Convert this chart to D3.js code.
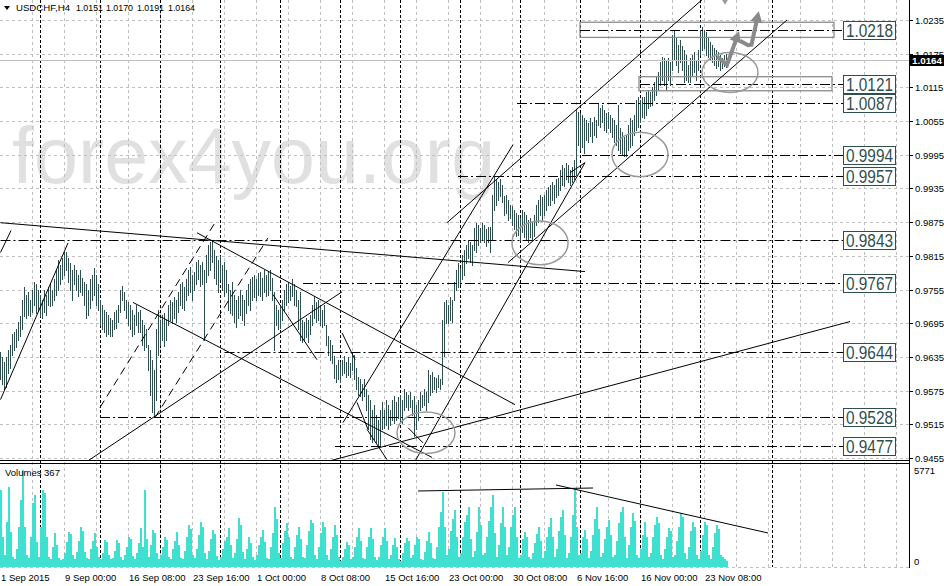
<!DOCTYPE html>
<html><head><meta charset="utf-8">
<script src="https://cdn.jsdelivr.net/npm/d3@7"></script>
<style>
body{margin:0;background:#fff;}
svg{display:block;font-family:"Liberation Sans",Arial,sans-serif;}
</style></head>
<body><svg id="chart" width="944" height="586"></svg>
<script>
// ---- data ----
const symbol = "USDCHF,H4";
const headerQuote = ["1.0151","1.0170","1.0191","1.0164"];
const lastPrice = 1.0164;
const highs = [
.9643,.9634,.9626,.9634,.9648,.9657,.9675,.9679,.9684,.9697,.9707,.9737,
.9759,.9746,.9750,.9737,.9755,.9769,.9764,.9755,.9746,
.9737,.9755,.9746,.9759,.9764,.9755,.9773,.9790,.9808,.9799,
.9812,.9822,.9822,.9812,.9803,.9790,.9799,.9790,.9781,.9790,
.9776,.9769,.9764,.9755,.9773,.9781,.9794,.9781,.9764,.9737,
.9728,.9719,.9715,.9710,.9705,.9701,.9715,.9719,.9728,.9755,
.9761,.9751,.9737,.9732,.9728,.9719,.9710,.9728,.9715,.9719,
.9701,.9692,.9684,.9657,.9648,.9630,.9612,.9684,.9719,.9701,
.9710,.9714,.9701,.9728,.9737,.9732,.9741,.9737,.9751,.9764,
.9768,.9759,.9773,.9790,.9795,.9781,.9786,.9804,.9808,.9799,
.9804,.9790,.9817,.9835,.9840,.9844,.9826,.9814,.9808,.9814,
.9799,.9804,.9790,.9764,.9755,.9768,.9746,.9737,.9743,.9755,
.9746,.9737,.9755,.9764,.9773,.9778,.9781,.9773,.9785,.9786,
.9776,.9790,.9781,.9786,.9790,.9776,.9750,.9728,.9719,.9725,
.9737,.9755,.9764,.9768,.9761,.9773,.9764,.9755,.9737,.9750,
.9701,.9697,.9705,.9701,.9710,.9728,.9743,.9732,.9737,.9728,
.9719,.9728,.9692,.9672,.9666,.9657,.9636,.9621,.9630,.9626,
.9630,.9636,.9626,.9634,.9625,.9643,.9639,.9616,.9600,.9595,
.9586,.9595,.9577,.9568,.9559,.9541,.9550,.9532,.9523,.9541,
.9554,.9541,.9559,.9550,.9541,.9559,.9565,.9555,.9563,.9568,
.9559,.9577,.9573,.9568,.9572,.9559,.9565,.9550,.9559,.9572,
.9568,.9577,.9572,.9612,.9603,.9608,.9600,.9598,.9603,.9595,
.9701,.9732,.9737,.9728,.9741,.9737,.9769,.9790,.9803,.9794,
.9817,.9826,.9835,.9844,.9839,.9835,.9865,.9874,.9870,.9865,
.9874,.9870,.9862,.9867,.9867,.9924,.9956,.9951,.9947,.9951,
.9942,.9921,.9924,.9915,.9906,.9903,.9897,.9892,.9888,.9883,
.9897,.9893,.9888,.9879,.9883,.9875,.9888,.9906,.9915,.9924,
.9919,.9924,.9933,.9937,.9942,.9946,.9942,.9951,.9954,.9968,
.9977,.9972,.9981,.9977,.9968,.9974,.9986,1.0075,1.0071,1.0070,
1.0066,1.0061,1.0057,1.0052,1.0061,1.0053,1.0063,1.0057,1.0088,1.0079,
1.0084,1.0075,1.0070,1.0071,1.0066,1.0061,1.0057,1.0048,1.0084,1.0043,
1.0036,1.0026,1.0031,1.0048,1.0061,1.0057,1.0066,1.0093,1.0097,1.0093,
1.0098,1.0097,1.0106,1.0111,1.0107,1.0115,1.0124,1.0134,1.0142,1.0160,
1.0170,1.0168,1.0164,1.0168,1.0160,1.0209,1.0218,1.0204,1.0191,1.0200,
1.0188,1.0182,1.0173,1.0155,1.0168,1.0173,1.0178,1.0164,1.0182,1.0218,
1.0223,1.0218,1.0214,1.0204,1.0196,1.0191,1.0186,1.0182,1.0178,1.0173,1.0168,1.0173,1.0175
];
const lows = [
.9595,.9586,.9577,.9581,.9607,.9616,.9639,.9648,.9652,.9666,.9672,.9684,
.9707,.9705,.9710,.9707,.9715,.9728,.9714,.9719,.9707,
.9705,.9715,.9710,.9728,.9725,.9728,.9737,.9746,.9755,.9764,
.9773,.9781,.9790,.9768,.9755,.9737,.9764,.9755,.9743,.9751,
.9746,.9728,.9705,.9710,.9723,.9737,.9746,.9728,.9719,.9692,
.9684,.9679,.9672,.9675,.9672,.9673,.9684,.9687,.9697,.9715,
.9737,.9719,.9705,.9692,.9684,.9672,.9675,.9692,.9679,.9680,
.9657,.9648,.9652,.9612,.9568,.9537,.9529,.9559,.9639,.9657,
.9666,.9654,.9666,.9692,.9701,.9696,.9705,.9697,.9715,.9728,
.9723,.9719,.9737,.9746,.9750,.9737,.9755,.9764,.9773,.9761,
.9764,.9666,.9768,.9781,.9790,.9804,.9776,.9764,.9750,.9773,
.9755,.9743,.9751,.9719,.9714,.9710,.9697,.9689,.9705,.9710,
.9701,.9692,.9714,.9728,.9719,.9737,.9741,.9737,.9746,.9743,
.9737,.9751,.9743,.9746,.9755,.9737,.9648,.9692,.9684,.9687,
.9701,.9719,.9728,.9732,.9737,.9743,.9728,.9725,.9684,.9666,
.9661,.9666,.9670,.9661,.9675,.9692,.9705,.9697,.9701,.9692,
.9689,.9692,.9657,.9639,.9630,.9625,.9598,.9590,.9595,.9591,
.9603,.9607,.9600,.9603,.9600,.9612,.9595,.9577,.9568,.9565,
.9559,.9565,.9541,.9506,.9488,.9483,.9488,.9483,.9476,.9476,
.9506,.9509,.9514,.9506,.9514,.9523,.9518,.9523,.9527,.9523,
.9518,.9541,.9545,.9541,.9545,.9532,.9494,.9506,.9523,.9541,
.9545,.9550,.9541,.9554,.9568,.9573,.9577,.9573,.9581,.9577,
.9586,.9636,.9696,.9696,.9701,.9697,.9737,.9755,.9759,.9764,
.9773,.9781,.9803,.9812,.9804,.9799,.9826,.9821,.9835,.9839,
.9844,.9839,.9832,.9839,.9821,.9844,.9897,.9906,.9915,.9921,
.9911,.9888,.9892,.9879,.9883,.9870,.9862,.9850,.9853,.9844,
.9857,.9848,.9844,.9839,.9848,.9844,.9850,.9870,.9875,.9888,
.9879,.9888,.9897,.9906,.9906,.9915,.9910,.9919,.9924,.9933,
.9942,.9939,.9951,.9946,.9942,.9947,.9951,.9959,1.0013,1.0004,
1.0008,.9999,1.0022,1.0017,1.0028,1.0018,1.0031,1.0026,1.0048,1.0045,
1.0053,1.0040,1.0035,1.0043,1.0035,1.0026,1.0018,1.0013,1.0004,.9999,
.9995,.9992,.9992,1.0004,1.0008,1.0013,1.0031,1.0040,1.0045,1.0053,
1.0063,1.0061,1.0066,1.0079,1.0081,1.0084,1.0093,1.0102,1.0111,1.0120,
1.0129,1.0120,1.0111,1.0129,1.0120,1.0146,1.0164,1.0155,1.0142,1.0160,
1.0146,1.0124,1.0129,1.0124,1.0125,1.0137,1.0142,1.0129,1.0146,1.0173,
1.0182,1.0186,1.0173,1.0170,1.0164,1.0160,1.0155,1.0150,1.0153,1.0146,1.0150,1.0153,1.0151
];
const volumes = [
4582,1785,714,2678,4760,2083,595,476,1071,2380,3987,5771,
2380,714,536,1785,3808,4284,1488,595,2380,4582,4403,1785,
595,476,1190,2023,1309,536,417,476,833,1488,2083,1964,
714,476,893,1547,2380,2142,893,536,476,1071,1547,2023,
1190,595,476,833,1607,1488,714,476,536,952,1607,1428,
595,417,714,1190,1785,1666,655,476,833,1428,2321,1190,
4582,1666,595,1309,2202,2023,833,476,714,1190,1785,1607,
595,476,1071,1547,2083,1309,536,476,952,1785,2499,2261,
714,536,1071,1904,2678,2380,833,476,952,1666,2202,1964,
655,417,595,1071,1547,1785,2321,1309,536,833,1666,2916,
2499,893,476,1071,1785,1428,595,417,714,1309,1785,2202,
1488,536,476,1190,2023,3570,2856,833,536,1428,2142,2618,
1785,595,476,1190,1904,2380,1666,595,536,1309,2142,2797,
2618,714,476,1190,2023,2678,2380,714,417,1071,1785,2499,
1904,595,357,595,1071,1488,1309,476,595,1190,1785,2321,
1547,536,476,1190,1785,2321,1666,595,417,595,1309,1785,
2321,1547,476,714,1309,1726,1190,476,357,833,1428,1726,
1547,536,714,1309,1785,1666,476,417,893,1547,2083,1428,
536,476,1190,2380,3273,4463,2380,714,1071,2142,2856,3392,
1785,595,833,1785,2678,3094,3570,1666,595,952,2083,3570,
2499,714,833,1785,2737,3570,4284,2023,595,1309,2618,3570,
2380,714,1190,2380,3094,3570,1785,536,714,1666,2083,1785,
595,476,833,1428,1964,2380,1547,536,952,1785,2380,2916,
1785,595,1071,2142,2975,3392,1904,536,833,1785,3094,4582,
2380,714,833,1785,2202,1666,536,952,1904,2856,3570,2261,
595,833,1666,2380,2797,1904,595,714,1547,2618,3273,3570,
1785,536,1309,2380,3213,2737,714,536,1071,1904,2678,1785,
595,833,1785,2499,2975,2618,714,476,1071,1785,2321,2142,
595,714,1547,2380,3213,2975,833,476,1190,2142,2678,2380,
714,476,952,1904,2678,2499,714,476,1190,2023,2499,2261,
714,595,476,367
];
const priceTicks = [1.0235,1.0175,1.0115,1.0055,0.9995,0.9935,0.9875,0.9815,0.9755,0.9695,0.9635,0.9575,0.9515,0.9455];
const timeLabels = ["1 Sep 2015","9 Sep 00:00","16 Sep 08:00","23 Sep 16:00","1 Oct 00:00","8 Oct 08:00","15 Oct 16:00","23 Oct 00:00","30 Oct 08:00","6 Nov 16:00","16 Nov 00:00","23 Nov 08:00"];
const barsPerLabel = 32;
const separatorBars = [20,50,80,110,140,170,200,230,260,290,320,350,386];
const volumeMax = 5771;
// analyst drawings, in (bar index, price)
const levelPrices = [1.0218,1.0121,1.0087,0.9994,0.9957,0.9843,0.9767,0.9644,0.9528,0.9477];
const levelStarts = [289.75,319.75,258.25,290.75,228.75,0,151.25,112,49.75,167.25];
const levelEndBar = 421.25;
const zones = [[289.75,1.0231,416.75,1.0204],[319.25,1.0134,415.75,1.0109]];
const trendSolid = [
 [[0,0.9874],[292.25,0.9787]],
 [[0,0.9559],[33.75,0.9838]],
 [[0,0.9821],[5.25,0.9860]],
 [[66.25,0.9732],[215.75,0.9456]],
 [[98.25,0.9856],[257.25,0.9550]],
 [[43.75,0.9450],[170.75,0.9751]],
 [[164.75,0.9450],[424.75,0.9698]],
 [[171.25,0.9518],[256.25,1.0013]],
 [[207.25,0.9449],[292.25,0.9981]],
 [[223.25,0.9874],[350.75,1.0271]],
 [[253.75,0.9803],[393.25,1.0235]],
 [[136.25,0.9746],[158.25,0.9630]],
 [[170.75,0.9678],[177.25,0.9630]],
 [[178.25,0.9554],[183.75,0.9506]],
 [[183.25,0.9506],[193.25,0.9452]],
 [[203.75,0.9509],[211.25,0.9482]],
 [[284.75,0.9963],[292.25,0.9981]]
];
const trendDashed = [
 [[49.75,0.9545],[107.25,0.9874]],
 [[77.25,0.9527],[133.75,0.9847]]
];
const ellipses = [[350.75,1.0177,378.75,1.0106],[305.75,1.0035,333.75,0.9956],[255.75,0.9877,283.75,0.9799],[198.25,0.9537,227.25,0.9463]];
const arrows = [
 [[358.25,1.0170],[363.25,1.0155],[368.25,1.0205]],
 [[369.75,1.0198],[373.75,1.0190],[375.5,1.0191],[378.5,1.0240]]
];
const arrowTip = [[360.75,1.0271],[363.75,1.0271],[362.25,1.0262]];
const volumeLines = [[[208.75,4522],[296.25,4700]],[[277.75,4879],[383.75,2023]]];

// ---- scales ----
const axisX = 909;
const x = d3.scaleLinear().domain([0,454]).range([0.5,908.5]);
const y = d3.scaleLinear().domain([0.9455,1.0235]).range([458,20]);
const yv = d3.scaleLinear().domain([0,volumeMax]).range([567,470]);
const svg = d3.select("#chart");
const barColor = "#2f4f4f";
const defs = svg.append("defs");
defs.append("clipPath").attr("id","cm").append("rect").attr("x",0).attr("y",0).attr("width",axisX).attr("height",460);
defs.append("clipPath").attr("id","cv").append("rect").attr("x",0).attr("y",464).attr("width",axisX).attr("height",103);
const ly = Math.round(y(lastPrice))+0.5;
defs.append("clipPath").attr("id","cax").append("rect").attr("x",910).attr("y",0).attr("width",34).attr("height",ly-5.5);

// watermark
svg.append("text").attr("x",12).attr("y",183).attr("font-size",79).attr("fill","#e0e0e0").text("forex4you.org");

// grid
const gridG = svg.append("g").attr("stroke","#c0c0c0").attr("stroke-dasharray","3,3").attr("stroke-width",1);
priceTicks.forEach(p=>{ const yy=Math.round(y(p))+0.5; gridG.append("line").attr("x1",0).attr("x2",axisX).attr("y1",yy).attr("y2",yy); });
d3.range(16,454,16).forEach(i=>{ gridG.append("line").attr("x1",x(i)).attr("x2",x(i)).attr("y1",0).attr("y2",567); });
gridG.append("line").attr("x1",0).attr("x2",axisX).attr("y1",567.5).attr("y2",567.5);

// period separators
const sepG = svg.append("g").attr("stroke","#000").attr("stroke-dasharray","3,2");
separatorBars.forEach(i=>{ sepG.append("line").attr("x1",x(i)).attr("x2",x(i)).attr("y1",0).attr("y2",567); });

const gm = svg.append("g").attr("clip-path","url(#cm)");
// price bars
gm.append("g").attr("stroke",barColor).attr("stroke-width",1)
 .selectAll("line").data(highs).join("line")
 .attr("x1",(d,i)=>x(i)).attr("x2",(d,i)=>x(i))
 .attr("y1",d=>Math.round(y(d))).attr("y2",(d,i)=>Math.round(y(lows[i]))+1);

// current price line
gm.append("line").attr("x1",0).attr("x2",axisX).attr("y1",ly).attr("y2",ly).attr("stroke","#c0c0c0");

// zones
zones.forEach(z=>{ gm.append("rect").attr("x",x(z[0])).attr("y",y(z[1])).attr("width",x(z[2])-x(z[0])).attr("height",y(z[3])-y(z[1]))
  .attr("fill","none").attr("stroke","#8c8c8c").attr("stroke-width",1.3); });

// level lines
levelPrices.forEach((p,k)=>{ const yy=Math.round(y(p))+0.5;
  gm.append("line").attr("x1",x(levelStarts[k])).attr("x2",x(levelEndBar)).attr("y1",yy).attr("y2",yy)
   .attr("stroke","#000").attr("stroke-dasharray","10,3,2,3"); });

// trend lines
const line = d3.line().x(d=>x(d[0])).y(d=>y(d[1]));
trendSolid.forEach(t=> gm.append("path").attr("d",line(t)).attr("stroke","#000").attr("fill","none").attr("stroke-width",1));
trendDashed.forEach(t=> gm.append("path").attr("d",line(t)).attr("stroke","#000").attr("fill","none").attr("stroke-dasharray","8,5"));

// ellipses
ellipses.forEach(e=>{ gm.append("ellipse").attr("cx",(x(e[0])+x(e[2]))/2).attr("cy",(y(e[1])+y(e[3]))/2)
  .attr("rx",(x(e[2])-x(e[0]))/2).attr("ry",(y(e[3])-y(e[1]))/2).attr("fill","none").attr("stroke","#9a9a9a").attr("stroke-width",1.5); });

// arrows
arrows.forEach(a=>{
  gm.append("path").attr("d",line(a)).attr("fill","none").attr("stroke","#8a8a8a").attr("stroke-width",4).attr("stroke-linejoin","miter");
  const p1=[x(a[a.length-2][0]),y(a[a.length-2][1])], p2=[x(a[a.length-1][0]),y(a[a.length-1][1])];
  const ang=Math.atan2(p2[1]-p1[1],p2[0]-p1[0]);
  const L=11,Wd=6, tip=[p2[0]+Math.cos(ang)*6,p2[1]+Math.sin(ang)*6];
  const b=[tip[0]-Math.cos(ang)*L,tip[1]-Math.sin(ang)*L];
  const pts=[tip,[b[0]+Math.sin(ang)*Wd,b[1]-Math.cos(ang)*Wd],[b[0]-Math.sin(ang)*Wd,b[1]+Math.cos(ang)*Wd]];
  gm.append("polygon").attr("points",pts.map(p=>p.join(",")).join(" ")).attr("fill","#8a8a8a");
});
gm.append("polygon").attr("points",arrowTip.map(d=>[x(d[0]),y(d[1])].join(",")).join(" ")).attr("fill","#9a9a9a");

// level label boxes
levelPrices.forEach(p=>{ const yc=Math.round(y(p));
  const g=svg.append("g");
  g.append("rect").attr("x",843.5).attr("y",yc-8.5).attr("width",52).attr("height",18).attr("fill","#fff").attr("stroke","#2f4f4f");
  g.append("text").attr("x",846).attr("y",yc+7).attr("font-size",17.5).attr("fill","#2f4f4f").attr("textLength",47).attr("lengthAdjust","spacingAndGlyphs").text(p.toFixed(4));
});

// volumes
const gv = svg.append("g").attr("clip-path","url(#cv)");
gv.append("g").attr("fill","#40e0d0").selectAll("rect").data(volumes).join("rect")
 .attr("x",(d,i)=>x(i)-0.5).attr("width",2).attr("y",d=>yv(d)).attr("height",d=>567-yv(d));
volumeLines.forEach(t=> gv.append("path").attr("d",d3.line().x(d=>x(d[0])).y(d=>yv(d[1]))(t)).attr("stroke","#000").attr("fill","none"));

// panel borders
svg.append("line").attr("x1",0).attr("x2",axisX).attr("y1",460.5).attr("y2",460.5).attr("stroke","#000");
svg.append("line").attr("x1",0).attr("x2",axisX).attr("y1",463.5).attr("y2",463.5).attr("stroke","#000");
svg.append("line").attr("x1",axisX+0.5).attr("x2",axisX+0.5).attr("y1",0).attr("y2",568).attr("stroke","#000");

// right axis
const ax = svg.append("g").attr("font-size",9.5).attr("fill","#000");
priceTicks.forEach(p=>{ const yy=Math.round(y(p));
  svg.append("line").attr("x1",axisX+1).attr("x2",axisX+4).attr("y1",yy+0.5).attr("y2",yy+0.5).attr("stroke","#000");
  const t = ax.append("text").attr("x",915).attr("y",yy+4).text(p.toFixed(4));
  if (Math.abs(y(p)-ly) < 10) t.attr("clip-path","url(#cax)");
});
// current price box
svg.append("rect").attr("x",910).attr("y",ly-5.5).attr("width",34).attr("height",11).attr("fill","#000");
svg.append("text").attr("x",912).attr("y",ly+3.5).attr("font-size",9.5).attr("font-weight","bold").attr("fill","#fff").attr("textLength",30).attr("lengthAdjust","spacingAndGlyphs").text(lastPrice.toFixed(4));
// volume axis
ax.append("text").attr("x",914).attr("y",yv(volumeMax)+4).text(String(volumeMax));
ax.append("text").attr("x",914).attr("y",yv(0)-2).text("0");
svg.append("text").attr("x",5).attr("y",476).attr("font-size",9.5).text("Volumes " + volumes[volumes.length-1]);

// time axis
timeLabels.forEach((t,k)=>{ svg.append("text").attr("x",x(k*barsPerLabel)+0.5).attr("y",581).attr("font-size",9.5).text(t); });

// header
svg.append("path").attr("d","M4,6 L10,6 L7,10 Z").attr("fill","#000");
const hx=[16,76,106,137,168], hw=[54,27,27,27,27];
[symbol].concat(headerQuote).forEach((t,k)=> svg.append("text").attr("x",hx[k]).attr("y",11).attr("font-size",9.5)
  .attr("textLength",hw[k]).attr("lengthAdjust","spacingAndGlyphs").text(t));
</script></body></html>
